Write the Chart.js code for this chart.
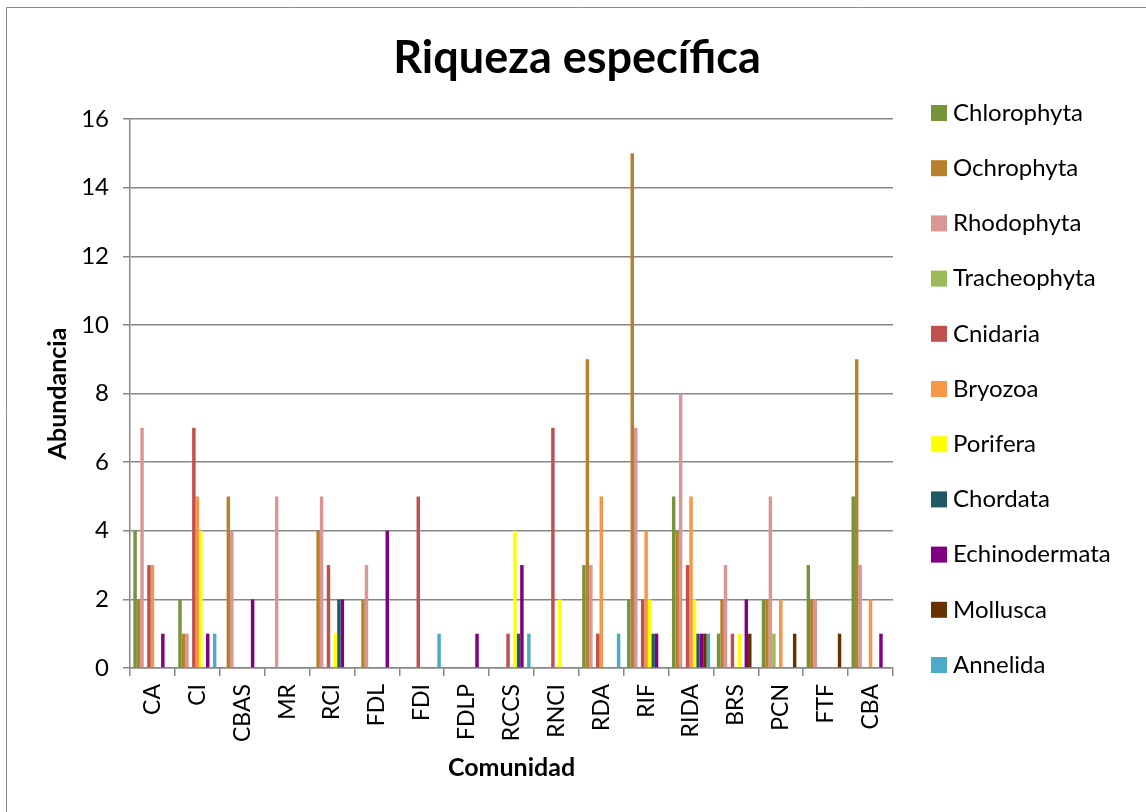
<!DOCTYPE html>
<html>
<head>
<meta charset="utf-8">
<script src="https://cdn.jsdelivr.net/npm/chart.js@4/dist/chart.umd.min.js"></script>
<style>
  html, body { margin: 0; padding: 0; background: #fff; }
  canvas { display: block; }
</style>
</head>
<body>
<canvas id="chart" width="1146" height="812"></canvas>
<script>
// communities on the x axis
const comunidades = ['CA', 'CI', 'CBAS', 'MR', 'RCI', 'FDL', 'FDI', 'FDLP', 'RCCS', 'RNCI', 'RDA', 'RIF', 'RIDA', 'BRS', 'PCN', 'FTF', 'CBA'];

// species count per phylum, one value per community
const chlorophyta   = [4, 2, 0, 0, 0, 0, 0, 0, 0, 0, 3, 2, 5, 1, 2, 3, 5];
const ochrophyta    = [2, 1, 5, 0, 4, 2, 0, 0, 0, 0, 9, 15, 4, 2, 2, 2, 9];
const rhodophyta    = [7, 1, 4, 5, 5, 3, 0, 0, 0, 0, 3, 7, 8, 3, 5, 2, 3];
const tracheophyta  = [0, 0, 0, 0, 0, 0, 0, 0, 0, 0, 0, 0, 0, 0, 1, 0, 0];
const cnidaria      = [3, 7, 0, 0, 3, 0, 5, 0, 1, 7, 1, 2, 3, 1, 0, 0, 0];
const bryozoa       = [3, 5, 0, 0, 0, 0, 0, 0, 0, 0, 5, 4, 5, 0, 2, 0, 2];
const porifera      = [0, 4, 0, 0, 1, 0, 0, 0, 4, 2, 0, 2, 2, 1, 0, 0, 0];
const chordata      = [0, 0, 0, 0, 2, 0, 0, 0, 1, 0, 0, 1, 1, 0, 0, 0, 0];
const echinodermata = [1, 1, 2, 0, 2, 4, 0, 1, 3, 0, 0, 1, 1, 2, 0, 0, 1];
const mollusca      = [0, 0, 0, 0, 0, 0, 0, 0, 0, 0, 0, 0, 1, 1, 1, 1, 0];
const annelida      = [0, 1, 0, 0, 0, 0, 1, 0, 1, 0, 1, 0, 1, 0, 0, 0, 0];

const seriesNames = ['Chlorophyta', 'Ochrophyta', 'Rhodophyta', 'Tracheophyta', 'Cnidaria', 'Bryozoa', 'Porifera', 'Chordata', 'Echinodermata', 'Mollusca', 'Annelida'];
const seriesValues = [chlorophyta, ochrophyta, rhodophyta, tracheophyta, cnidaria, bryozoa, porifera, chordata, echinodermata, mollusca, annelida];
const seriesColors = ['#77933C', '#B8802A', '#D99694', '#9BBB59', '#C0504D', '#F79646', '#FFFF00', '#215967', '#800080', '#663300', '#4BACC6'];

const FONT = 'Lato, "Liberation Sans", sans-serif';
const GRID = '#878787';

Chart.defaults.font.family = FONT;
Chart.defaults.color = '#000';

// outer frame of the chart object
const framePlugin = {
    id: 'frame',
    beforeDraw(chart) {
        const c = chart.ctx;
        c.save();
        c.fillStyle = '#fff';
        c.fillRect(0, 0, chart.width, chart.height);
        c.strokeStyle = '#8a8a8a';
        c.lineWidth = 1;
        c.beginPath();
        c.moveTo(6.5, chart.height + 5);
        c.lineTo(6.5, 7.5);
        c.lineTo(chart.width + 5, 7.5);
        c.stroke();
        c.restore();
    }
};

// legend on the right, one entry per row
const legendPlugin = {
    id: 'sideLegend',
    afterDraw(chart) {
        const c = chart.ctx;
        const x0 = 931, y0 = 105, step = 55.2, box = 16;
        c.save();
        c.font = '24px ' + FONT;
        c.textBaseline = 'middle';
        chart.data.datasets.forEach((ds, i) => {
            const y = y0 + i * step;
            c.fillStyle = ds.backgroundColor;
            c.fillRect(x0, y, box, box);
            c.fillStyle = '#000';
            c.fillText(ds.label, x0 + 22, y + box / 2);
        });
        c.restore();
    }
};

new Chart(document.getElementById('chart'), {
    type: 'bar',
    data: {
        labels: comunidades,
        datasets: seriesNames.map((name, i) => ({
            label: name,
            data: seriesValues[i],
            yAxisID: 'y',
            backgroundColor: seriesColors[i],
            borderWidth: 0,
            barPercentage: 1,
            categoryPercentage: 0.85,
        }))
    },
    options: {
        responsive: false,
        animation: false,
        layout: { padding: { left: 8, right: 0, top: 0, bottom: 0 } },
        plugins: {
            legend: { display: false },
            tooltip: { enabled: false },
            title: {
                display: true,
                text: 'Riqueza específica',
                color: '#000',
                font: { size: 45, weight: 'bold' },
                padding: { top: 31, bottom: 34 }
            }
        },
        scales: {
            x: {
                grid: { display: true, drawOnChartArea: false, drawTicks: true, tickLength: 8, color: GRID, lineWidth: 1.5, offset: true },
                border: { color: GRID, width: 1.5 },
                ticks: { font: { size: 23 }, color: '#000', padding: 8, minRotation: 90, maxRotation: 90, autoSkip: false },
                title: { display: true, text: 'Comunidad', color: '#000', font: { size: 25, weight: 'bold' }, padding: { top: 0, bottom: 29 } },
                afterFit(scale) { scale.height = 144; }
            },
            y: {
                min: 0,
                max: 16,
                ticks: { stepSize: 2, font: { size: 24 }, color: '#000', padding: 14 },
                grid: { color: GRID, lineWidth: 1.5, tickLength: 7 },
                border: { color: GRID, width: 1.5 },
                title: { display: true, text: 'Abundancia', color: '#000', font: { size: 25, weight: 'bold' }, padding: { top: 35, bottom: 0 } },
                afterFit(scale) { scale.width = 122; }
            },
            // empty strip that leaves room for the legend
            legendSpace: {
                type: 'linear',
                position: 'right',
                grid: { display: false, drawTicks: false },
                border: { display: false },
                ticks: { display: false },
                afterFit(scale) { scale.width = 253; }
            }
        }
    },
    plugins: [framePlugin, legendPlugin]
});
</script>
</body>
</html>
